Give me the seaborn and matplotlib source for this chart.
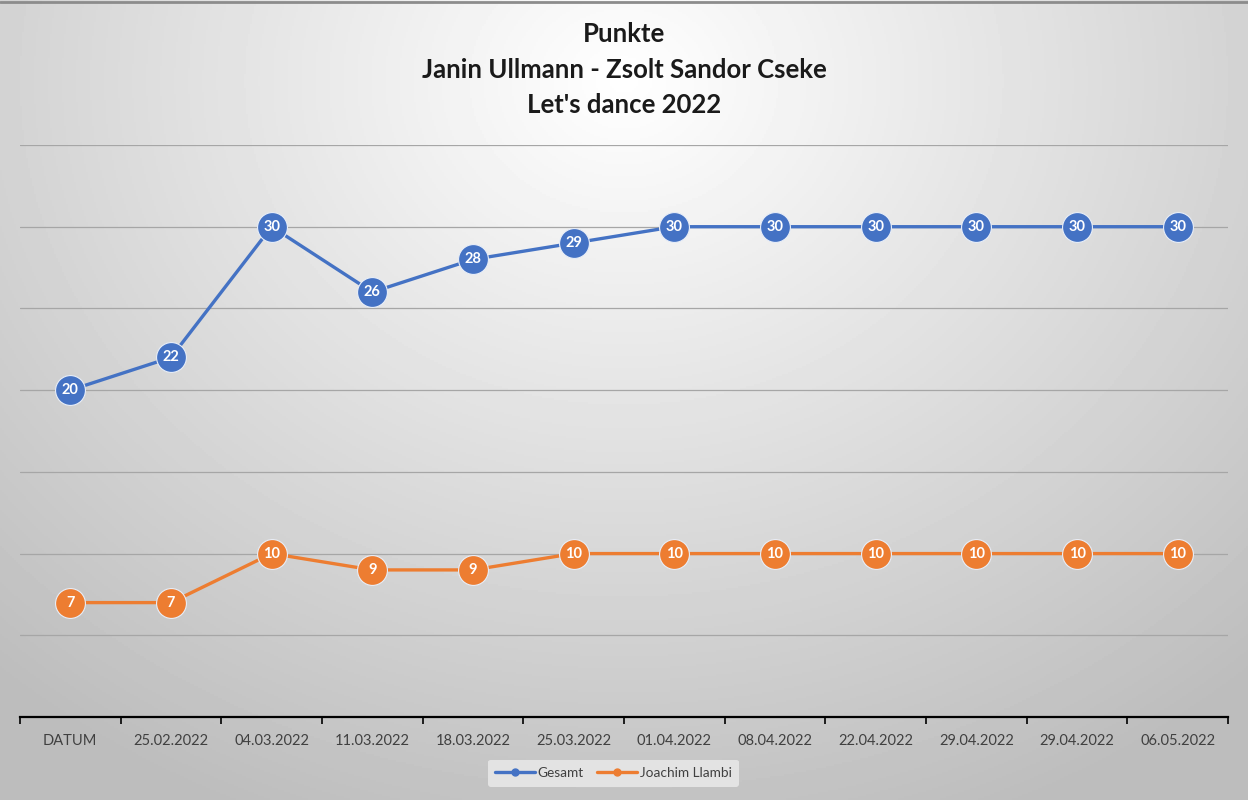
import numpy as np
import pandas as pd
import matplotlib.pyplot as plt
import seaborn as sns
from matplotlib.lines import Line2D

# data
dates = ['DATUM', '25.02.2022', '04.03.2022', '11.03.2022', '18.03.2022', '25.03.2022',
         '01.04.2022', '08.04.2022', '22.04.2022', '29.04.2022', '29.04.2022', '06.05.2022']
gesamt = [20, 22, 30, 26, 28, 29, 30, 30, 30, 30, 30, 30]
llambi = [7, 7, 10, 9, 9, 10, 10, 10, 10, 10, 10, 10]
series_names = ['Gesamt', 'Joachim Llambi']
colors = {'Gesamt': '#4472C4', 'Joachim Llambi': '#ED7D31'}

df = pd.DataFrame({
    'pos': list(range(len(dates))) * 2,
    'punkte': gesamt + llambi,
    'serie': [series_names[0]] * len(gesamt) + [series_names[1]] * len(llambi),
})

sns.set_theme(style='white')
plt.rcParams['font.family'] = ['Lato', 'DejaVu Sans']

fig = plt.figure(figsize=(12.48, 8), dpi=100)

# radial grey background like the Excel chart area
bg = fig.add_axes([0, 0, 1, 1], zorder=-10)
yy, xx = np.mgrid[0:1:400j, 0:1:624j]
r = np.sqrt(((xx - 0.5) / 0.75) ** 2 + ((yy - 0.1) / 1.0) ** 2)
shade = np.clip(1.0 - 0.26 * r, 0.74, 1.0)
bg.imshow(shade, cmap='gray', vmin=0, vmax=1, aspect='auto', extent=[0, 1, 1, 0])
bg.axhline(0.002, color='#8c8c8c', linewidth=2)
bg.set_xlim(0, 1)
bg.set_ylim(1, 0)
bg.axis('off')

ax = fig.add_axes([0.016, 0.10375, 0.968, 0.715])
ax.patch.set_alpha(0)

sns.lineplot(data=df, x='pos', y='punkte', hue='serie', palette=colors, sort=False,
             marker='o', markersize=21.5, linewidth=2.4, markeredgecolor='#e8eef8',
             markeredgewidth=0.8, legend=False, ax=ax, zorder=3)

for name, vals in zip(series_names, [gesamt, llambi]):
    for i, v in enumerate(vals):
        ax.text(i, v, str(v), ha='center', va='center', color='white',
                fontsize=10.5, fontweight='bold', zorder=5)

ax.set_xlim(-0.5, len(dates) - 0.5)
ax.set_ylim(0, 35)
ax.set_yticks(np.arange(5, 36, 5))
ax.yaxis.grid(True, color='#a6a6a6', linewidth=0.9)
ax.tick_params(axis='y', left=False, labelleft=False)
ax.set_xticks(range(len(dates)))
ax.set_xticklabels(dates, fontsize=10.5, color='#404040')
ax.set_xticks(np.arange(-0.5, len(dates), 1), minor=True)
ax.tick_params(axis='x', which='major', length=0, pad=12)
ax.tick_params(axis='x', which='minor', length=5, width=1.2, color='black', direction='out', bottom=True)
ax.set_xlabel('')
ax.set_ylabel('')
for s in ['top', 'left', 'right']:
    ax.spines[s].set_visible(False)
ax.spines['bottom'].set_color('black')
ax.spines['bottom'].set_linewidth(1.6)

title_kw = dict(ha='center', va='center', fontsize=18.5, fontweight='bold', color='#1a1a1a')
fig.text(0.5, 0.958, 'Punkte', **title_kw)
fig.text(0.5, 0.912, 'Janin Ullmann - Zsolt Sandor Cseke', **title_kw)
fig.text(0.5, 0.869, "Let's dance 2022", **title_kw)

handles = [Line2D([], [], color=colors[n], marker='o', markersize=5, linewidth=2.4) for n in series_names]
leg = fig.legend(handles, series_names, loc='center', bbox_to_anchor=(0.4915, 0.0335), ncol=2,
                 frameon=True, fontsize=9.8, handlelength=2.9, handletextpad=0.2,
                 columnspacing=1.0, borderpad=0.55)
leg.get_frame().set_facecolor('#e9e9e9')
leg.get_frame().set_edgecolor('none')
leg.get_frame().set_alpha(0.85)
for t in leg.get_texts():
    t.set_color('#404040')

fig.savefig('out.png', dpi=100)
